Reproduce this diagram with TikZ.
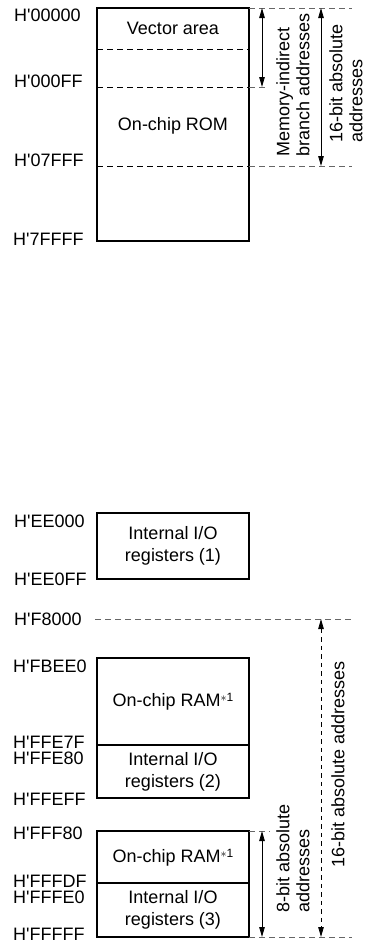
\documentclass[tikz,border=0pt]{standalone}
\usepackage{fontspec}
\setmainfont{Liberation Sans}
\usetikzlibrary{arrows.meta}
\newcommand{\noteone}{\raisebox{5pt}{\fontsize{12}{12}\selectfont$\ast$1}}
\newcommand{\hq}{H\textquotesingle}
\begin{document}
\begin{tikzpicture}[x=1pt,y=-1pt,
  font=\fontsize{18}{21}\selectfont,
  boxline/.style={line width=1.1pt},
  indash/.style={line width=0.8pt, dash pattern=on 5.5pt off 4.5pt},
  outdash/.style={line width=0.8pt, black!60, dash pattern=on 5.5pt off 4.5pt},
  addr/.style={anchor=base west, inner sep=0pt},
  celltext/.style={align=center, inner sep=0pt, font=\fontsize{18}{22.5}\selectfont},
  vlabel/.style={rotate=90, anchor=west, align=left, inner sep=0pt, font=\fontsize{18}{20}\selectfont},
  dimarrow/.style={line width=0.8pt, {Triangle[length=10pt,width=5.5pt]}-{Triangle[length=10pt,width=5.5pt]}},
  dimdash/.style={dimarrow, dash pattern=on 4.5pt off 4pt},
]
\useasboundingbox (0,0) rectangle (367,943);

% ---------- top block ----------
\coordinate (t1) at (97,8);
\coordinate (t2) at (249,241);
\draw[boxline] (t1) rectangle (t2);
\draw[indash] (97,49) -- (249,49);
\draw[indash] (97,87) -- (249,87);
\draw[outdash] (249,87) -- (268,87);
\draw[indash] (97,166) -- (249,166);
\draw[outdash] (249,166) -- (352,166);
\draw[outdash] (249,8) -- (352,8);

\node[celltext] (vec) at (173,28.5) {Vector area};
\node[celltext] (rom) at (173,126) {On-chip ROM};

\coordinate (mia) at (262,8);
\coordinate (mib) at (262,87);
\draw[dimarrow] (mia) -- (mib);
\coordinate (sa) at (321,8);
\coordinate (sb) at (321,166);
\draw[dimarrow] (sa) -- (sb);
\node[vlabel] (milab) at (293,157) {Memory-indirect\\branch addresses};
\node[vlabel] (s1lab) at (346,143) {16-bit absolute\\addresses};

\node[addr] (a1) at (14,21) {\hq 00000};
\node[addr] (a2) at (14,87) {\hq 000FF};
\node[addr] (a3) at (14,166) {\hq 07FFF};
\node[addr] (a4) at (13,245) {\hq 7FFFF};

% ---------- internal I/O (1) ----------
\draw[boxline] (97,513) rectangle (249,579);
\node[celltext] (io1) at (173,546) {Internal I/O\\registers (1)};
\node[addr] (a5) at (14,527) {\hq EE000};
\node[addr] (a6) at (14,585) {\hq EE0FF};

% ---------- bottom block ----------
\node[addr] (a7) at (14,625) {\hq F8000};
\draw[outdash] (95,619) -- (352,619);
\coordinate (sc) at (321,619);
\coordinate (sd) at (321,937);
\draw[dimdash] (sc) -- (sd);
\node[vlabel] (s2lab) at (338,868) {16-bit absolute addresses};

\draw[boxline] (97,658) rectangle (249,798);
\draw[boxline] (97,745) -- (249,745);
\node[celltext] (ram1) at (173,702) {On-chip RAM\noteone};
\node[celltext] (io2) at (173,772) {Internal I/O\\registers (2)};
\node[addr] (a8) at (13,672) {\hq FBEE0};
\node[addr] (a9) at (13,748) {\hq FFE7F};
\node[addr] (a10) at (13,764) {\hq FFE80};
\node[addr] (a11) at (13,805) {\hq FFEFF};

\draw[boxline] (97,831) rectangle (249,937);
\draw[boxline] (97,883) -- (249,883);
\node[celltext] (ram2) at (173,858) {On-chip RAM\noteone};
\node[celltext] (io3) at (173,910) {Internal I/O\\registers (3)};
\node[addr] (a12) at (13,839) {\hq FFF80};
\node[addr] (a13) at (13,887) {\hq FFFDF};
\node[addr] (a14) at (13,903) {\hq FFFE0};
\node[addr] (a15) at (13,940) {\hq FFFFF};

\draw[outdash] (249,831) -- (270,831);
\draw[outdash] (249,937) -- (352,937);
\coordinate (ea) at (262,831);
\coordinate (eb) at (262,937);
\draw[dimarrow] (ea) -- (eb);
\node[vlabel] (elab) at (293,913) {8-bit absolute\\addresses};
\end{tikzpicture}
\end{document}
